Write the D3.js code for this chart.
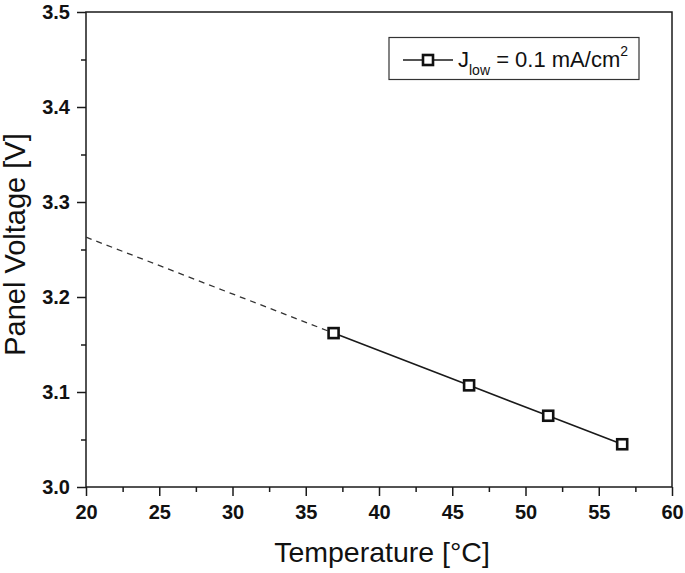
<!DOCTYPE html>
<html>
<head>
<meta charset="utf-8">
<script src="https://cdn.jsdelivr.net/npm/d3@7"></script>
<style>
  body { margin: 0; background: #fff; }
  text { font-family: "Liberation Sans", Arial, sans-serif; fill: #111; }
</style>
</head>
<body>
<svg width="685" height="573"></svg>
<script>
// measured points
var temps = [36.9, 46.15, 51.55, 56.6];
var volts = [3.162, 3.107, 3.075, 3.045];
// dashed extrapolation back to 20 °C
var extraT = [20, 36.9];
var extraV = [3.263, 3.162];

var xTicks = [20, 25, 30, 35, 40, 45, 50, 55, 60];
var yTicks = [3.0, 3.1, 3.2, 3.3, 3.4, 3.5];

var svg = d3.select("svg");
var m = {left: 86, right: 672, top: 12, bottom: 487};

var x = d3.scaleLinear().domain([20, 60]).range([m.left, m.right]);
var y = d3.scaleLinear().domain([3.0, 3.5]).range([m.bottom, m.top]);

var ink = "#1a1a1a";

// minor ticks first
svg.append("g")
  .attr("transform", "translate(0," + m.bottom + ")")
  .call(d3.axisBottom(x).tickValues(d3.range(22.5, 60, 5)).tickSize(5).tickFormat(""))
  .call(function(g) { g.select(".domain").remove(); });
svg.append("g")
  .attr("transform", "translate(" + m.left + ",0)")
  .call(d3.axisLeft(y).tickValues(d3.range(3.05, 3.5, 0.1)).tickSize(5).tickFormat(""))
  .call(function(g) { g.select(".domain").remove(); });

// major ticks + labels
var xAxis = svg.append("g")
  .attr("transform", "translate(0," + m.bottom + ")")
  .call(d3.axisBottom(x).tickValues(xTicks).tickSize(9).tickPadding(9).tickFormat(d3.format("d")));
var yAxis = svg.append("g")
  .attr("transform", "translate(" + m.left + ",0)")
  .call(d3.axisLeft(y).tickValues(yTicks).tickSize(9).tickPadding(7).tickFormat(d3.format(".1f")));

[xAxis, yAxis].forEach(function(g) {
  g.select(".domain").remove();
  g.selectAll("text")
    .style("font-size", "20px").style("font-weight", "bold")
    .style("font-family", "'Liberation Sans', Arial, sans-serif").attr("fill", "#111");
});
svg.selectAll(".tick line").attr("stroke", ink).attr("stroke-width", 1.5);

// frame
svg.append("rect")
  .attr("x", m.left).attr("y", m.top)
  .attr("width", m.right - m.left).attr("height", m.bottom - m.top)
  .attr("fill", "none").attr("stroke", ink).attr("stroke-width", 1.5);

// lines
var line = d3.line().x(function(d) { return x(d[0]); }).y(function(d) { return y(d[1]); });

svg.append("path")
  .datum(d3.zip(extraT, extraV))
  .attr("d", line)
  .attr("fill", "none").attr("stroke", "#333").attr("stroke-width", 1.3)
  .attr("stroke-dasharray", "6,5");

svg.append("path")
  .datum(d3.zip(temps, volts))
  .attr("d", line)
  .attr("fill", "none").attr("stroke", ink).attr("stroke-width", 1.6);

svg.append("g").selectAll("rect")
  .data(d3.zip(temps, volts))
  .enter().append("rect")
    .attr("x", function(d) { return x(d[0]) - 5; })
    .attr("y", function(d) { return y(d[1]) - 5; })
    .attr("width", 10).attr("height", 10)
    .attr("fill", "#fff").attr("stroke", "#111").attr("stroke-width", 2.6);

// legend
var lg = svg.append("g");
lg.append("rect")
  .attr("x", 389).attr("y", 37.5).attr("width", 250).attr("height", 42)
  .attr("fill", "#fff").attr("stroke", "#333").attr("stroke-width", 1.2);
lg.append("line")
  .attr("x1", 403).attr("x2", 453).attr("y1", 60).attr("y2", 60)
  .attr("stroke", ink).attr("stroke-width", 1.6);
lg.append("rect")
  .attr("x", 423).attr("y", 55).attr("width", 10).attr("height", 10)
  .attr("fill", "#fff").attr("stroke", "#111").attr("stroke-width", 2.6);
var lt = lg.append("text").attr("x", 458).attr("y", 67).style("font-size", "22px");
lt.append("tspan").text("J");
lt.append("tspan").style("font-size", "14px").attr("dy", 8).text("low");
lt.append("tspan").attr("dy", -8).text(" = 0.1 mA/cm");
lt.append("tspan").style("font-size", "14px").attr("dy", -11).text("2");

// axis titles
svg.append("text")
  .attr("x", (m.left + m.right) / 2 + 3).attr("y", 562)
  .attr("text-anchor", "middle").style("font-size", "28.5px")
  .text("Temperature [°C]");
svg.append("text")
  .attr("transform", "translate(25,244.5) rotate(-90)")
  .attr("text-anchor", "middle").style("font-size", "29px")
  .text("Panel Voltage [V]");
</script>
</body>
</html>
